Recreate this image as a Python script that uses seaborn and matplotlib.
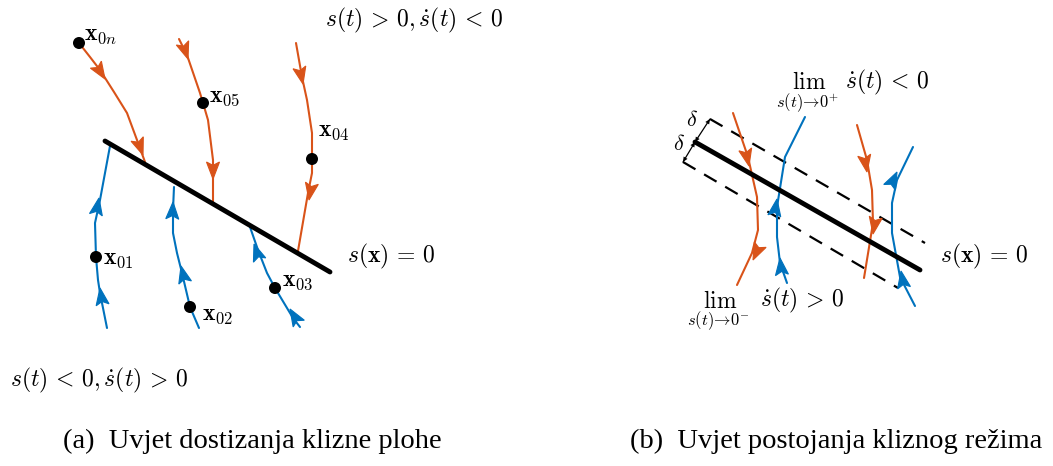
import numpy as np
import pandas as pd
import matplotlib
matplotlib.use("Agg")
import matplotlib.pyplot as plt
import seaborn as sns

sns.set_theme(style="white")
plt.rcParams['font.family'] = ['Liberation Serif', 'DejaVu Serif']
plt.rcParams['mathtext.fontset'] = 'cm'
plt.rcParams['text.color'] = 'black'

ORANGE = "#D95319"
BLUE = "#0072BD"

# ---- data (picture coordinates, y grows downward) ----
# panel (a): sliding surface
surf_a_x = [105, 330]
surf_a_y = [141, 272]

# orange trajectories (above the surface), listed in travel direction
tr_0n_x = [79, 90, 100, 114, 127, 137, 145]
tr_0n_y = [43, 57, 70, 92, 113, 140, 162]
tr_05_x = [179, 187, 200, 203, 208, 213, 213]
tr_05_y = [39, 55, 93, 103, 120, 160, 203]
tr_04_x = [296, 302, 307, 312, 312, 312, 308, 298]
tr_04_y = [43, 77, 100, 133, 159, 173, 193, 251]
# blue trajectories (below the surface)
tr_01_x = [107, 100, 98, 96, 95, 100, 110]
tr_01_y = [328, 293, 280, 257, 223, 200, 146]
tr_02_x = [199, 190, 182, 177, 173, 173, 174]
tr_02_y = [328, 307, 273, 253, 233, 210, 187]
tr_03_x = [300, 293, 275, 267, 258, 250]
tr_03_y = [327, 318, 288, 273, 250, 227]

arrows_orange_a = [(105, 79), (143, 155), (188, 59), (213, 179), (303, 84), (309, 200)]
arrows_blue_a = [(100, 288), (99, 198), (181, 266), (173, 202), (290, 309), (254, 244)]

init_x = [79, 203, 312, 96, 190, 275]
init_y = [43, 103, 159, 257, 307, 288]
init_labels = [r"$\mathbf{x}_{0n}$", r"$\mathbf{x}_{05}$", r"$\mathbf{x}_{04}$",
               r"$\mathbf{x}_{01}$", r"$\mathbf{x}_{02}$", r"$\mathbf{x}_{03}$"]
label_x = [84, 209, 318, 103, 202, 282]
label_y = [36, 98, 131, 260, 316, 281]

# panel (b): surface and boundary layer
surf_b_x = [695, 920]
surf_b_y = [142, 270]
upper_x = [710, 925]
upper_y = [119, 243]
lower_x = [683, 898]
lower_y = [162, 288]

trb_o1_x = [733, 748, 757, 758, 752, 737]
trb_o1_y = [113, 157, 197, 230, 253, 285]
trb_b1_x = [787, 780, 777, 777, 785, 805]
trb_b1_y = [283, 263, 237, 207, 157, 117]
trb_o2_x = [857, 867, 872, 873, 864]
trb_o2_y = [125, 160, 190, 223, 278]
trb_b2_x = [915, 900, 892, 892, 897, 913]
trb_b2_y = [306, 277, 233, 203, 180, 147]

arrows_orange_b = [(749, 166), (753, 260), (867, 172), (873, 234)]
arrows_blue_b = [(780, 258), (777, 199), (901, 271), (897, 172)]

# ---- figure ----
fig = plt.figure(figsize=(10.53, 4.66), dpi=100)
ax = fig.add_axes([0, 0, 1, 1])
ax.set_xlim(0, 1053)
ax.set_ylim(466, 0)
ax.axis("off")


def line(xs, ys, color, lw=1.5, ls="-"):
    df = pd.DataFrame({"x": xs, "y": ys})
    sns.lineplot(data=df, x="x", y="y", sort=False, estimator=None, color=color,
                 lw=lw, linestyle=ls, ax=ax)


def arrowhead(tip, xs, ys, color, L=17.0, W=13.0):
    pts = np.column_stack([xs, ys]).astype(float)
    t = np.array(tip, float)
    best, bi = 1e9, 0
    for i in range(len(pts) - 1):
        a, b = pts[i], pts[i + 1]
        ab = b - a
        u = np.clip(np.dot(t - a, ab) / np.dot(ab, ab), 0, 1)
        dd = np.linalg.norm(a + u * ab - t)
        if dd < best:
            best, bi = dd, i
    d = pts[bi + 1] - pts[bi]
    d /= np.linalg.norm(d)
    p = np.array([-d[1], d[0]])
    base = t - d * L
    notch = t - d * L * 0.8
    poly = np.array([t, base + p * W / 2, notch, base - p * W / 2])
    ax.fill(poly[:, 0], poly[:, 1], color=color, lw=0.8, ec=color, zorder=4)


def dbl_arrow(p0, p1, L=5.0, W=4.5):
    p0 = np.array(p0, float)
    p1 = np.array(p1, float)
    ax.plot([p0[0], p1[0]], [p0[1], p1[1]], color="black", lw=0.9)
    for a, b in [(p0, p1), (p1, p0)]:
        d = (b - a) / np.linalg.norm(b - a)
        p = np.array([-d[1], d[0]])
        base = b - d * L
        poly = np.array([b, base + p * W / 2, base - p * W / 2])
        ax.fill(poly[:, 0], poly[:, 1], color="black", lw=0)


for xs, ys in [(tr_0n_x, tr_0n_y), (tr_05_x, tr_05_y), (tr_04_x, tr_04_y)]:
    line(xs, ys, ORANGE)
for xs, ys in [(tr_01_x, tr_01_y), (tr_02_x, tr_02_y), (tr_03_x, tr_03_y)]:
    line(xs, ys, BLUE)
line(surf_a_x, surf_a_y, "black", lw=3.5)

orange_a = [(tr_0n_x, tr_0n_y), (tr_05_x, tr_05_y), (tr_04_x, tr_04_y)]
blue_a = [(tr_01_x, tr_01_y), (tr_02_x, tr_02_y), (tr_03_x, tr_03_y)]
for k, tip in enumerate(arrows_orange_a):
    arrowhead(tip, *orange_a[k // 2], ORANGE)
for k, tip in enumerate(arrows_blue_a):
    arrowhead(tip, *blue_a[k // 2], BLUE)

sns.scatterplot(x=init_x, y=init_y, color="black", s=75, edgecolor="none", ax=ax, zorder=5)
for lx, ly, lab in zip(label_x, label_y, init_labels):
    ax.text(lx, ly, lab, fontsize=17, va="center", ha="left")

ax.text(347, 256, r"$s(\mathbf{x})\, =\, 0$", fontsize=17, va="center", ha="left")
ax.text(325, 20, r"$s(t)\, >\, 0, \dot{s}(t)\, <\, 0$", fontsize=17, va="center", ha="left")
ax.text(10, 380, r"$s(t)\, <\, 0, \dot{s}(t)\, >\, 0$", fontsize=17, va="center", ha="left")

# panel (b)
line(upper_x, upper_y, "black", lw=1.6, ls=(0, (6.5, 4.5)))
line(lower_x, lower_y, "black", lw=1.6, ls=(0, (6.5, 4.5)))
for xs, ys in [(trb_o1_x, trb_o1_y), (trb_o2_x, trb_o2_y)]:
    line(xs, ys, ORANGE)
for xs, ys in [(trb_b1_x, trb_b1_y), (trb_b2_x, trb_b2_y)]:
    line(xs, ys, BLUE)
line(surf_b_x, surf_b_y, "black", lw=3.5)

orange_b = [(trb_o1_x, trb_o1_y), (trb_o2_x, trb_o2_y)]
blue_b = [(trb_b1_x, trb_b1_y), (trb_b2_x, trb_b2_y)]
for k, tip in enumerate(arrows_orange_b):
    arrowhead(tip, *orange_b[k // 2], ORANGE)
for k, tip in enumerate(arrows_blue_b):
    arrowhead(tip, *blue_b[k // 2], BLUE)

dbl_arrow((surf_b_x[0], surf_b_y[0]), (upper_x[0], upper_y[0]))
dbl_arrow((surf_b_x[0], surf_b_y[0]), (lower_x[0], lower_y[0]))
ax.text(692, 121, r"$\delta$", fontsize=16, va="center", ha="center")
ax.text(679, 145, r"$\delta$", fontsize=16, va="center", ha="center")

ax.text(807, 69, r"$\lim_{s(t)\to 0^{+}}$", fontsize=17, va="top", ha="center")
ax.text(845, 82, r"$\dot{s}(t)\, <\, 0$", fontsize=17, va="center", ha="left")
ax.text(718, 289, r"$\lim_{s(t)\to 0^{-}}$", fontsize=17, va="top", ha="center")
ax.text(760, 300, r"$\dot{s}(t)\, >\, 0$", fontsize=17, va="center", ha="left")
ax.text(940, 256, r"$s(\mathbf{x})\, =\, 0$", fontsize=17, va="center", ha="left")

ax.text(63, 441, "(a)  Uvjet dostizanja klizne plohe", fontsize=20.5, va="center", ha="left")
ax.text(630, 441, "(b)  Uvjet postojanja kliznog režima", fontsize=20.5, va="center", ha="left")

fig.savefig("out.png", dpi=100)
